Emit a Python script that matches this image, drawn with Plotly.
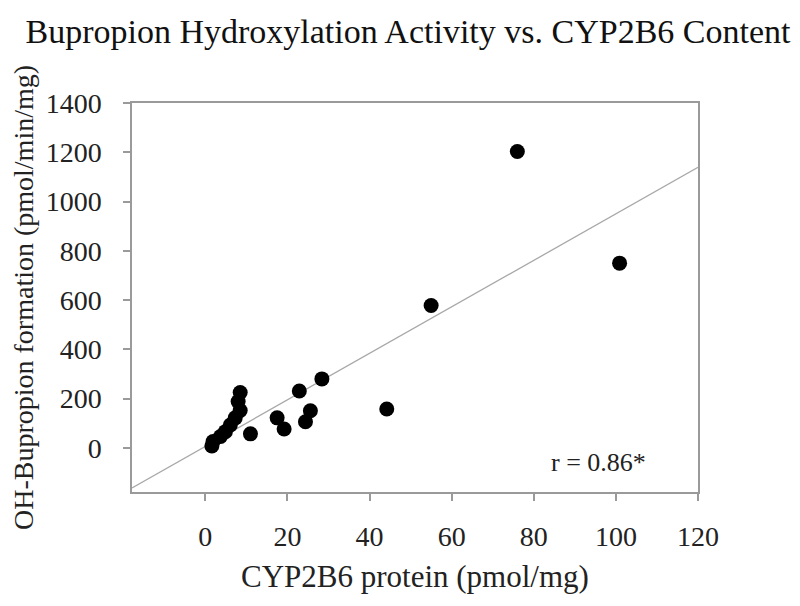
import plotly.graph_objects as go

# CYP2B6 protein (pmol/mg) and OH-bupropion formation (pmol/min/mg)
cyp2b6 = [76.0, 100.9, 55.0, 44.2, 28.4, 22.9, 25.6, 24.4, 17.5, 19.2, 11.0,
          8.5, 8.0, 8.5, 7.3, 6.1, 4.9, 3.7, 1.9, 1.6]
oh_bupropion = [1203, 750, 578, 158, 280, 231, 151, 106, 122, 77, 57,
                225, 188, 152, 122, 93, 66, 46, 26, 8]

# regression line
fit_slope = 9.44
fit_intercept = 6
x_range = [-17.85, 120]
y_range = [-179, 1400]

x_ticks = [0, 20, 40, 60, 80, 100, 120]
y_ticks = [0, 200, 400, 600, 800, 1000, 1200, 1400]

serif = "Liberation Serif, Times New Roman, serif"
axis_grey = "#9a9a9a"

fig = go.Figure()
fig.add_trace(go.Scatter(
    x=x_range,
    y=[fit_slope * v + fit_intercept for v in x_range],
    mode="lines",
    line=dict(color="#a8a8a8", width=1.3),
    showlegend=False,
    hoverinfo="skip"
))
fig.add_trace(go.Scatter(
    x=cyp2b6,
    y=oh_bupropion,
    mode="markers",
    marker=dict(color="black", size=15),
    showlegend=False
))

# r value and x title placed as annotations so they sit where the original has them
fig.add_annotation(
    x=0.825, y=0.077, xref="paper", yref="paper",
    xanchor="center", yanchor="middle",
    text="r = 0.86*", showarrow=False,
    font=dict(family=serif, size=26, color="#222")
)
fig.add_annotation(
    x=0.5, y=-0.2185, xref="paper", yref="paper",
    xanchor="center", yanchor="middle",
    text="CYP2B6 protein (pmol/mg)", showarrow=False,
    font=dict(family=serif, size=31, color="#222")
)

# the page body adds an 8px margin, so the margins are shifted to compensate
fig.update_layout(
    width=800, height=606,
    margin=dict(l=124, r=110, t=95, b=122),
    paper_bgcolor="white",
    plot_bgcolor="white",
    font=dict(family=serif, color="#222"),
    title=dict(
        text="Bupropion Hydroxylation Activity vs. CYP2B6 Content",
        x=0.5, xanchor="center", y=0.962, yanchor="middle",
        font=dict(family=serif, size=34, color="#111")
    ),
    xaxis=dict(
        range=x_range, tickvals=x_ticks, automargin=False,
        showline=True, linecolor=axis_grey, linewidth=1.5, mirror=True,
        ticks="outside", ticklen=7, tickcolor=axis_grey, tickwidth=1.5,
        showgrid=False, zeroline=False,
        tickfont=dict(size=28), ticklabelstandoff=12
    ),
    yaxis=dict(
        range=y_range, tickvals=y_ticks, automargin=False,
        showline=True, linecolor=axis_grey, linewidth=1.5, mirror=True,
        ticks="outside", ticklen=7, tickcolor=axis_grey, tickwidth=1.5,
        showgrid=False, zeroline=False,
        tickfont=dict(size=28), ticklabelstandoff=16,
        title=dict(text="OH-Bupropion formation (pmol/min/mg)",
                   font=dict(family=serif, size=28, color="#222"), standoff=14)
    )
)

fig.write_html("out.html")
